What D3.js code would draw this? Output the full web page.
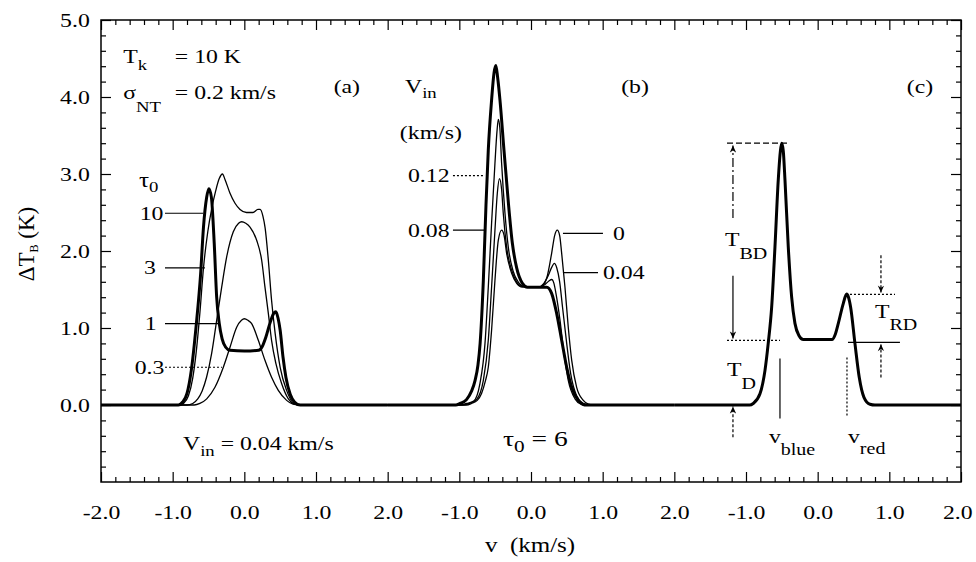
<!DOCTYPE html>
<html lang="en">
<head>
<meta charset="UTF-8">
<title>Model line profiles</title>
<script src="https://d3js.org/d3.v7.min.js"></script>
<style>
  body { margin: 0; padding: 0; background: #fff; }
  svg { display: block; }
  svg text { font-family: "Liberation Serif", "Times New Roman", serif; fill: #000; }
  .frame { fill: none; stroke: #000; stroke-width: 1.5; }
  .axis line { stroke: #000; stroke-width: 1.2; }
  .axis path { display: none; }
  .thin { fill: none; stroke: #000; stroke-width: 1.3; }
  .thick { fill: none; stroke: #000; stroke-width: 3; }
  .anno { fill: none; stroke: #000; stroke-width: 1.2; }
</style>
</head>
<body>
<svg id="chart" width="976" height="562"></svg>
<script>
// ---- data: [v (km/s), dT_B (K)] ----
// panel (a): V_in = 0.04 km/s, different tau0
const tau10 = [[-2,0],[-0.92,0],[-0.86,0.04],[-0.80,0.15],[-0.74,0.45],[-0.67,1.05],[-0.61,1.70],[-0.57,2.31],[-0.525,2.70],[-0.495,2.81],[-0.46,2.70],[-0.42,2.10],[-0.386,1.40],[-0.35,1.06],[-0.31,0.86],[-0.26,0.75],[-0.20,0.71],[0.0,0.70],[0.20,0.71],[0.25,0.76],[0.30,0.88],[0.36,1.07],[0.41,1.19],[0.44,1.21],[0.47,1.13],[0.50,0.97],[0.54,0.62],[0.58,0.36],[0.64,0.14],[0.70,0.04],[0.78,0],[2,0]];
const tau3 = [[-2,0],[-0.90,0],[-0.84,0.03],[-0.78,0.12],[-0.72,0.35],[-0.67,0.70],[-0.62,1.20],[-0.57,1.78],[-0.51,2.25],[-0.455,2.55],[-0.40,2.78],[-0.35,2.94],[-0.305,3.00],[-0.27,2.93],[-0.20,2.75],[-0.13,2.62],[-0.06,2.54],[0.03,2.50],[0.12,2.50],[0.19,2.54],[0.22,2.54],[0.26,2.45],[0.29,2.30],[0.335,1.88],[0.38,1.36],[0.43,0.93],[0.50,0.49],[0.59,0.19],[0.68,0.03],[0.76,0],[2,0]];
const tau1 = [[-2,0],[-0.80,0],[-0.72,0.02],[-0.65,0.08],[-0.59,0.18],[-0.527,0.36],[-0.456,0.67],[-0.386,1.10],[-0.316,1.53],[-0.247,1.92],[-0.154,2.25],[-0.08,2.36],[-0.037,2.38],[0.02,2.36],[0.079,2.31],[0.172,2.14],[0.242,1.88],[0.288,1.53],[0.335,1.19],[0.38,0.84],[0.44,0.54],[0.52,0.28],[0.614,0.08],[0.70,0.01],[0.76,0],[2,0]];
const tau03 = [[-2,0],[-0.70,0],[-0.62,0.02],[-0.525,0.08],[-0.41,0.23],[-0.293,0.49],[-0.20,0.75],[-0.107,1.01],[-0.04,1.10],[0.0,1.12],[0.05,1.10],[0.10,1.06],[0.195,0.84],[0.288,0.58],[0.38,0.36],[0.474,0.19],[0.59,0.06],[0.68,0.01],[0.75,0],[2,0]];

// panel (b): tau0 = 6, different V_in
const vin0 = [[-2,0],[-0.90,0],[-0.83,0.02],[-0.75,0.06],[-0.69,0.15],[-0.64,0.30],[-0.596,0.49],[-0.55,0.97],[-0.503,1.62],[-0.456,2.14],[-0.41,2.27],[-0.375,2.20],[-0.34,1.97],[-0.27,1.71],[-0.20,1.58],[-0.12,1.53],[0.10,1.53],[0.17,1.56],[0.22,1.65],[0.288,1.97],[0.33,2.20],[0.367,2.27],[0.40,2.20],[0.428,1.97],[0.474,1.53],[0.52,1.01],[0.568,0.58],[0.637,0.23],[0.73,0.06],[0.80,0.01],[0.86,0],[2,0]];
const vin04 = [[-2,0],[-0.95,0],[-0.86,0.02],[-0.76,0.07],[-0.665,0.32],[-0.596,0.84],[-0.55,1.53],[-0.503,2.27],[-0.47,2.75],[-0.44,2.94],[-0.41,2.80],[-0.387,2.49],[-0.34,2.05],[-0.27,1.75],[-0.20,1.60],[-0.12,1.54],[0.10,1.53],[0.18,1.58],[0.24,1.68],[0.29,1.79],[0.325,1.84],[0.36,1.78],[0.40,1.60],[0.44,1.27],[0.498,0.80],[0.553,0.41],[0.637,0.12],[0.73,0.02],[0.80,0],[2,0]];
const vin08 = [[-2,0],[-1.0,0],[-0.90,0.02],[-0.80,0.05],[-0.712,0.28],[-0.642,0.80],[-0.596,1.53],[-0.55,2.36],[-0.503,3.14],[-0.475,3.55],[-0.456,3.71],[-0.435,3.60],[-0.41,3.14],[-0.363,2.49],[-0.317,2.05],[-0.25,1.74],[-0.18,1.60],[-0.10,1.54],[0.12,1.53],[0.20,1.57],[0.25,1.61],[0.288,1.63],[0.32,1.58],[0.348,1.45],[0.405,1.10],[0.46,0.67],[0.52,0.32],[0.614,0.08],[0.70,0.01],[0.76,0],[2,0]];
const vin12 = [[-2,0],[-1.05,0],[-0.99,0.02],[-0.90,0.07],[-0.83,0.18],[-0.78,0.32],[-0.74,0.52],[-0.71,0.80],[-0.665,1.62],[-0.628,2.60],[-0.596,3.31],[-0.55,3.96],[-0.515,4.32],[-0.49,4.41],[-0.465,4.25],[-0.433,3.96],[-0.377,3.31],[-0.317,2.64],[-0.26,2.10],[-0.20,1.78],[-0.12,1.58],[-0.05,1.53],[0.22,1.53],[0.288,1.45],[0.358,1.19],[0.428,0.84],[0.498,0.49],[0.568,0.23],[0.66,0.06],[0.72,0.01],[0.78,0],[2,0]];

// panel (c): the example profile with its definitions
const example = [[-2,0],[-0.95,0],[-0.90,0.02],[-0.805,0.146],[-0.735,0.45],[-0.69,0.80],[-0.642,1.27],[-0.596,2.05],[-0.55,2.92],[-0.52,3.30],[-0.502,3.40],[-0.48,3.30],[-0.456,2.92],[-0.41,2.05],[-0.363,1.40],[-0.317,1.06],[-0.26,0.90],[-0.20,0.85],[0.20,0.85],[0.25,0.93],[0.288,1.06],[0.358,1.32],[0.404,1.44],[0.43,1.40],[0.46,1.27],[0.52,0.80],[0.58,0.36],[0.646,0.10],[0.73,0.01],[0.80,0],[2,0]];

const xTickLabels = ["-2.0","-1.0","0.0","1.0","2.0","-1.0","0.0","1.0","2.0","-1.0","0.0","1.0","2.0"];
const yTickLabels = ["0.0","1.0","2.0","3.0","4.0","5.0"];
const yTicks = [0, 1, 2, 3, 4, 5];

// ---- layout ----
const margin = { top: 20, right: 15, bottom: 80, left: 101 };
const width = 976 - margin.left - margin.right;
const height = 562 - margin.top - margin.bottom;
const SX = 1.25;   // the scanned lettering is wide

const svg = d3.select("#chart");
const chart = svg.append("g").attr("transform", `translate(${margin.left},${margin.top})`);

const xAll = d3.scaleLinear().domain([0, 12]).range([0, width]);
const panelX = [0, 1, 2].map(i => d3.scaleLinear().domain([-2, 2]).range([xAll(4 * i), xAll(4 * i + 4)]));
const y = d3.scaleLinear().domain([-1, 5]).range([height, 0]);

// arrow head
svg.append("defs").append("marker")
    .attr("id", "arrow")
    .attr("viewBox", "0 0 10 10")
    .attr("refX", 10).attr("refY", 5)
    .attr("markerWidth", 10).attr("markerHeight", 7)
    .attr("markerUnits", "userSpaceOnUse")
    .attr("orient", "auto")
  .append("path")
    .attr("d", "M0,0.5 L10,5 L0,9.5 L3,5 Z")
    .attr("fill", "#000");

// ---- axes (ticks inside on all four sides) ----
const minorX = d3.range(0, 60.5, 1).map(d => d / 5).filter(d => d % 1 !== 0);
const minorY = d3.range(-5, 25.5, 1).map(d => d / 5).filter(d => d % 1 !== 0);

const styleLabels = g => {
    g.attr("font-family", null).attr("font-size", null);
    g.selectAll("text").attr("font-size", 19).attr("transform", `scale(${SX},1)`);
};

chart.append("g").attr("class", "axis").attr("transform", `translate(0,${height})`)
    .call(d3.axisBottom(xAll).tickValues(d3.range(13)).tickSizeInner(-10).tickSizeOuter(0)
        .tickPadding(24).tickFormat((d, i) => xTickLabels[i]))
    .call(styleLabels)
    .call(g => g.selectAll("text").filter((d, i) => i === 12).attr("dx", -3));
chart.append("g").attr("class", "axis").attr("transform", `translate(0,${height})`)
    .call(d3.axisBottom(xAll).tickValues(minorX).tickSizeInner(-5).tickSizeOuter(0).tickFormat(""));
chart.append("g").attr("class", "axis")
    .call(d3.axisTop(xAll).tickValues(d3.range(13)).tickSizeInner(-10).tickSizeOuter(0).tickFormat(""));
chart.append("g").attr("class", "axis")
    .call(d3.axisTop(xAll).tickValues(minorX).tickSizeInner(-5).tickSizeOuter(0).tickFormat(""));

chart.append("g").attr("class", "axis")
    .call(d3.axisLeft(y).tickValues(yTicks).tickSizeInner(-10).tickSizeOuter(0)
        .tickPadding(9).tickFormat((d, i) => yTickLabels[i]))
    .call(styleLabels);
chart.append("g").attr("class", "axis")
    .call(d3.axisLeft(y).tickValues(minorY).tickSizeInner(-5).tickSizeOuter(0).tickFormat(""));
chart.append("g").attr("class", "axis").attr("transform", `translate(${width},0)`)
    .call(d3.axisRight(y).tickValues(yTicks).tickSizeInner(-10).tickSizeOuter(0).tickFormat(""));
chart.append("g").attr("class", "axis").attr("transform", `translate(${width},0)`)
    .call(d3.axisRight(y).tickValues(minorY).tickSizeInner(-5).tickSizeOuter(0).tickFormat(""));

chart.append("rect").attr("class", "frame").attr("width", width).attr("height", height);

// ---- profiles ----
const line = p => d3.line().x(d => panelX[p](d[0])).y(d => y(d[1])).curve(d3.curveMonotoneX);
const series = [
    { p: 0, data: tau03, cls: "thin" }, { p: 0, data: tau1, cls: "thin" },
    { p: 0, data: tau3, cls: "thin" }, { p: 0, data: tau10, cls: "thick" },
    { p: 1, data: vin0, cls: "thin" }, { p: 1, data: vin04, cls: "thin" },
    { p: 1, data: vin08, cls: "thin" }, { p: 1, data: vin12, cls: "thick" },
    { p: 2, data: example, cls: "thick" }
];
series.forEach(s => chart.append("path").attr("class", s.cls).attr("d", line(s.p)(s.data)));

// ---- leader lines and definition markers, in data units ----
const annos = [
    [0, -1.107, 2.49, -0.575, 2.49, null, false],
    [0, -1.107, 1.78, -0.55, 1.78, null, false],
    [0, -1.107, 1.056, -0.367, 1.056, null, false],
    [0, -1.107, 0.49, -0.312, 0.49, "2,2", false],
    [1, -1.089, 2.98, -0.642, 2.98, "2,2", false],
    [1, -1.089, 2.27, -0.642, 2.27, null, false],
    [1, 0.446, 2.23, 1.004, 2.23, null, false],
    [1, 0.446, 1.72, 0.935, 1.72, null, false],
    [2, -1.265, 3.40, -0.428, 3.40, "6,3", false],
    [2, -1.182, 2.43, -1.182, 3.37, "9,3,2,3", true],
    [2, -1.182, 1.68, -1.182, 0.865, null, true],
    [2, -1.265, 0.84, -0.526, 0.84, "2,2", false],
    [2, -1.182, -0.42, -1.182, -0.02, "3,2", true],
    [2, -0.526, 0.605, -0.526, -0.175, null, false],
    [2, 0.409, 0.618, 0.409, -0.15, "2,2", false],
    [2, 0.395, 1.437, 1.079, 1.437, "2,2", false],
    [2, 0.883, 1.944, 0.883, 1.46, "3,2", true],
    [2, 0.423, 0.813, 1.148, 0.813, null, false],
    [2, 0.883, 0.358, 0.883, 0.79, "3,2", true]
];
annos.forEach(([p, v1, t1, v2, t2, dash, arrow]) => {
    const l = chart.append("line").attr("class", "anno")
        .attr("x1", panelX[p](v1)).attr("y1", y(t1))
        .attr("x2", panelX[p](v2)).attr("y2", y(t2));
    if (dash) l.attr("stroke-dasharray", dash);
    if (arrow) l.attr("marker-end", "url(#arrow)");
});

// ---- text ----
function label(p, v, t, segs, size, anchor) {
    const txt = chart.append("text")
        .attr("transform", `translate(${panelX[p](v)},${y(t)}) scale(${SX},1)`)
        .attr("font-size", size)
        .attr("text-anchor", anchor || "start");
    let shift = 0;
    segs.forEach(s => {
        const sp = txt.append("tspan").text(s.t);
        const target = s.sub || 0;
        if (target !== shift) { sp.attr("dy", target - shift); shift = target; }
        if (s.size) sp.attr("font-size", s.size);
    });
}

label(0, -1.69, 4.44, [{ t: "T" }, { t: "k", sub: 7, size: 15 }], 19);
label(0, -0.97, 4.44, [{ t: "= 10 K" }], 19);
label(0, -1.69, 3.97, [{ t: "σ" }, { t: "NT", sub: 13, size: 15 }], 19);
label(0, -0.97, 3.97, [{ t: "= 0.2 km/s" }], 19);
label(0, 1.43, 4.05, [{ t: "(a)" }], 19, "middle");
label(0, -1.47, 2.83, [{ t: "τ" }, { t: "0", sub: 5, size: 15 }], 20);
label(0, -1.46, 2.40, [{ t: "10" }], 19);
label(0, -1.40, 1.70, [{ t: "3" }], 19);
label(0, -1.39, 0.97, [{ t: "1" }], 19);
label(0, -1.53, 0.40, [{ t: "0.3" }], 19);
label(0, -0.856, -0.59, [{ t: "V" }, { t: "in", sub: 6, size: 15 }, { t: " = 0.04 km/s" }], 19);

label(1, -1.758, 4.05, [{ t: "V" }, { t: "in", sub: 5, size: 15 }], 19);
label(1, -1.83, 3.45, [{ t: "(km/s)" }], 19);
label(1, -1.717, 2.89, [{ t: "0.12" }], 19);
label(1, -1.717, 2.18, [{ t: "0.08" }], 19);
label(1, 1.144, 2.14, [{ t: "0" }], 19);
label(1, 1.004, 1.63, [{ t: "0.04" }], 19);
label(1, 1.451, 4.05, [{ t: "(b)" }], 19, "middle");
label(1, -0.391, -0.53, [{ t: "τ" }, { t: "0", sub: 6, size: 17 }, { t: " = 6" }], 22);

label(2, 1.427, 4.05, [{ t: "(c)" }], 19, "middle");
label(2, -1.293, 2.07, [{ t: "T" }, { t: "BD", sub: 13, size: 16 }], 19);
label(2, -1.265, 0.38, [{ t: "T" }, { t: "D", sub: 13, size: 16 }], 19);
label(2, -0.68, -0.49, [{ t: "v" }, { t: "blue", sub: 12, size: 16 }], 19);
label(2, 0.423, -0.49, [{ t: "v" }, { t: "red", sub: 11, size: 16 }], 19);
label(2, 0.80, 1.13, [{ t: "T" }, { t: "RD", sub: 12, size: 16 }], 19);

// axis titles
svg.append("text")
    .attr("transform", `translate(${margin.left + width / 2 - 1},552) scale(${SX},1)`)
    .attr("text-anchor", "middle").attr("font-size", 20)
    .style("white-space", "pre")
    .text("v  (km/s)");

const yTitle = svg.append("text")
    .attr("transform", "translate(34,244) rotate(-90)")
    .attr("text-anchor", "middle").attr("font-size", 23);
yTitle.append("tspan").text("ΔT");
yTitle.append("tspan").attr("font-size", 12).attr("dy", 4).text("B");
yTitle.append("tspan").attr("dy", -4).text(" (K)");
</script>
</body>
</html>
